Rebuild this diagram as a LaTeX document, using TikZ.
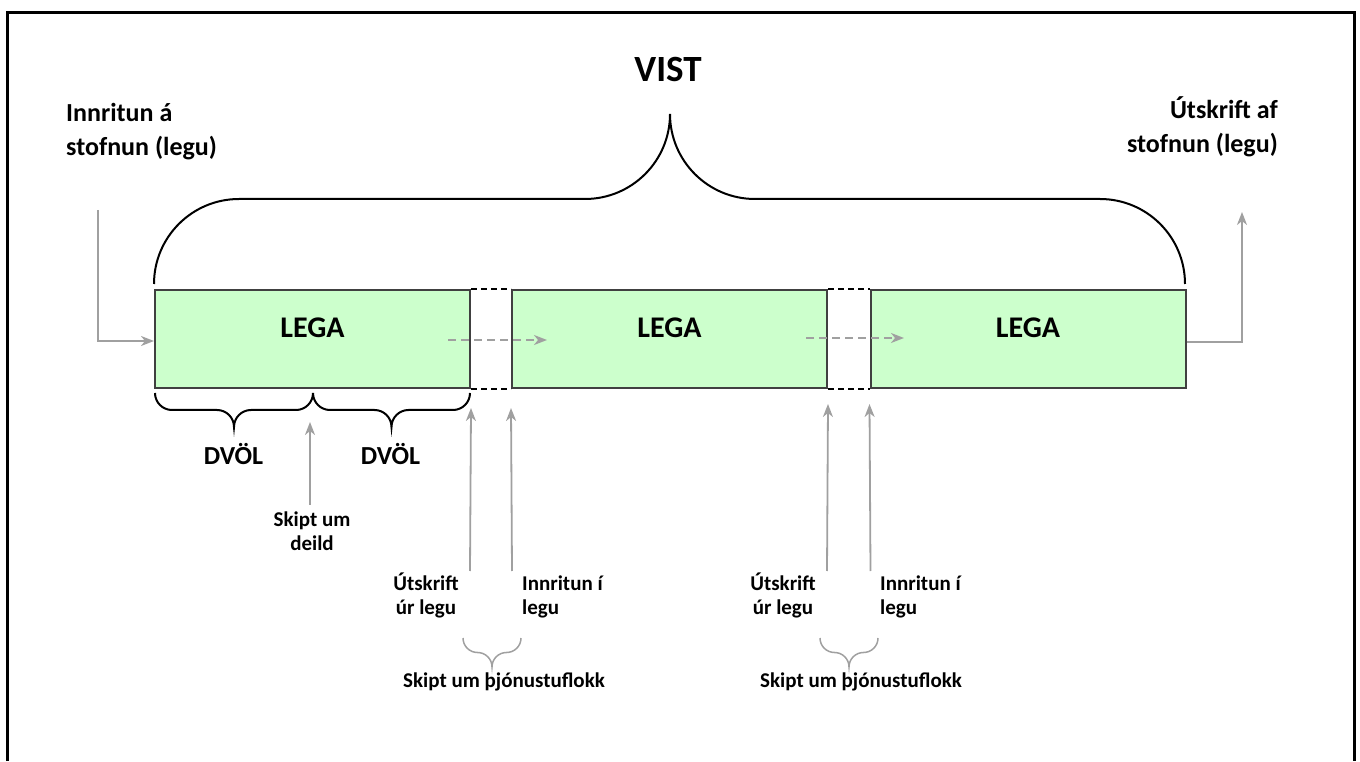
\documentclass[tikz,border=0pt]{standalone}
\usepackage{fontspec}
\setmainfont{Carlito}
\usetikzlibrary{arrows.meta}
\usetikzlibrary{calc}

\definecolor{legagreen}{HTML}{CCFFCC}
\definecolor{boxgray}{HTML}{404040}
\definecolor{arrgray}{HTML}{A0A0A0}

\newcommand{\fsz}[2]{\fontsize{#1}{#2}\selectfont\bfseries}
% brace opening downwards: [style]{left x}{right x}{top y}{radius}
\newcommand{\dbrace}[5][]{%
  \pgfmathsetmacro{\bmid}{(#2+#3)/2}
  \draw[#1] (#2,#4) arc[start angle=180,end angle=270,radius=#5]
    -- (\bmid-#5,#4-#5) arc[start angle=90,end angle=0,radius=#5]
    arc[start angle=180,end angle=90,radius=#5]
    -- (#3-#5,#4-#5) arc[start angle=270,end angle=360,radius=#5];}

\begin{document}
\begin{tikzpicture}[x=1pt,y=1pt,
    legabox/.style={draw=boxgray, line width=2pt, fill=legagreen,
      minimum width=315pt, minimum height=98pt, inner sep=0pt},
    legatxt/.style={font=\fsz{30}{36}, inner sep=0pt},
    toplbl/.style={font=\fsz{26}{34}, inner sep=0pt},
    lbl/.style={font=\fsz{21}{23.5}, inner sep=0pt},
    grayarr/.style={draw=arrgray, line width=1.8pt,
      -{Stealth[length=13pt,width=10pt,inset=4pt]}},
    gapline/.style={draw=black, line width=1.8pt, dash pattern=on 6pt off 4pt},
    blackbrace/.style={draw=black, line width=2pt},
    graybrace/.style={draw=arrgray, line width=1.5pt}]
    \useasboundingbox (0,0) rectangle (1360,761);
    \draw[line width=3pt] (7,0) -- (7,748) -- (1354,748) -- (1354,0);

    % the three stays
    \node[legabox] (lega1) at (312.5,422) {};
    \node[legabox] (lega2) at (669.5,422) {};
    \node[legabox] (lega3) at (1028,422) {};
    \node[legatxt] (lt1) at ([yshift=11pt]lega1.center) {LEGA};
    \node[legatxt] (lt2) at ([yshift=11pt]lega2.center) {LEGA};
    \node[legatxt] (lt3) at ([yshift=11pt]lega3.center) {LEGA};

    \draw[gapline] (lega1.north east) -- (lega2.north west);
    \draw[gapline] (lega1.south east) -- (lega2.south west);
    \draw[gapline] (lega2.north east) -- (lega3.north west);
    \draw[gapline] (lega2.south east) -- (lega3.south west);

    \coordinate (d1a) at (448,421);
    \coordinate (d1b) at (547,421);
    \coordinate (d2a) at (806,423);
    \coordinate (d2b) at (904,423);
    \draw[grayarr, dash pattern=on 8pt off 5pt] (d1a) -- (d1b);
    \draw[grayarr, dash pattern=on 8pt off 5pt] (d2a) -- (d2b);

    % VIST brace
    \draw[blackbrace] ([yshift=5pt]lega1.north west)
      arc[start angle=180,end angle=90,radius=85] -- ++(346,0)
      arc[start angle=270,end angle=360,radius=85]
      arc[start angle=180,end angle=270,radius=85] -- ++(345,0)
      arc[start angle=90,end angle=0,radius=85];
    \node[font=\fsz{37}{44}, inner sep=0pt] (vist) at (668,691) {VIST};

    \node[toplbl, align=left, anchor=base west] (innst) at (66,605)
      {Innritun á\\stofnun (legu)};
    \node[toplbl, align=right, anchor=base east] (utst) at (1278,608)
      {Útskrift af\\stofnun (legu)};
    \coordinate (inn0) at (98,551);
    \coordinate (ut0) at (1242,549);
    \draw[grayarr] (inn0) |- ([yshift=-2pt]lega1.west);
    \draw[grayarr] ([yshift=-3pt]lega3.east) -| (ut0);

    % DVÖL
    \dbrace[blackbrace]{155}{313}{368}{17}
    \dbrace[blackbrace]{313}{470}{368}{17}
    \node[font=\fsz{26}{30}, inner sep=0pt, anchor=base] (dvol1) at (233.5,296) {DVÖL};
    \node[font=\fsz{26}{30}, inner sep=0pt, anchor=base] (dvol2) at (390.5,296) {DVÖL};
    \node[lbl, align=center, anchor=base] (deild) at (312,211) {Skipt um\\deild};
    \coordinate (de0) at (310,256);
    \coordinate (de1) at (310,339);
    \draw[grayarr] (de0) -- (de1);

    % changes of service class
    \coordinate (ua1) at (470,190);
    \coordinate (ia1) at (512,190);
    \coordinate (ua2) at (827,190);
    \coordinate (ia2) at (870.5,190);
    \draw[grayarr] (ua1) -- ([yshift=-19pt]lega1.south east);
    \draw[grayarr] (ia1) -- ([yshift=-19pt]lega2.south west);
    \draw[grayarr] (ua2) -- ([yshift=-15pt]lega2.south east);
    \draw[grayarr] (ia2) -- ([yshift=-15pt]lega3.south west);

    \node[lbl, align=center, anchor=base] (ut1) at (426,147) {Útskrift\\úr legu};
    \node[lbl, align=left, anchor=base west] (in1) at (522,147) {Innritun í\\legu};
    \node[lbl, align=center, anchor=base] (ut2) at (783,147) {Útskrift\\úr legu};
    \node[lbl, align=left, anchor=base west] (in2) at (880,147) {Innritun í\\legu};

    \dbrace[graybrace]{463}{521}{123}{14.5}
    \dbrace[graybrace]{820}{878}{123}{14.5}
    \node[lbl, anchor=base] (sk1) at (504,74) {Skipt um þjónustuflokk};
    \node[lbl, anchor=base] (sk2) at (861,74) {Skipt um þjónustuflokk};
\end{tikzpicture}
\end{document}
